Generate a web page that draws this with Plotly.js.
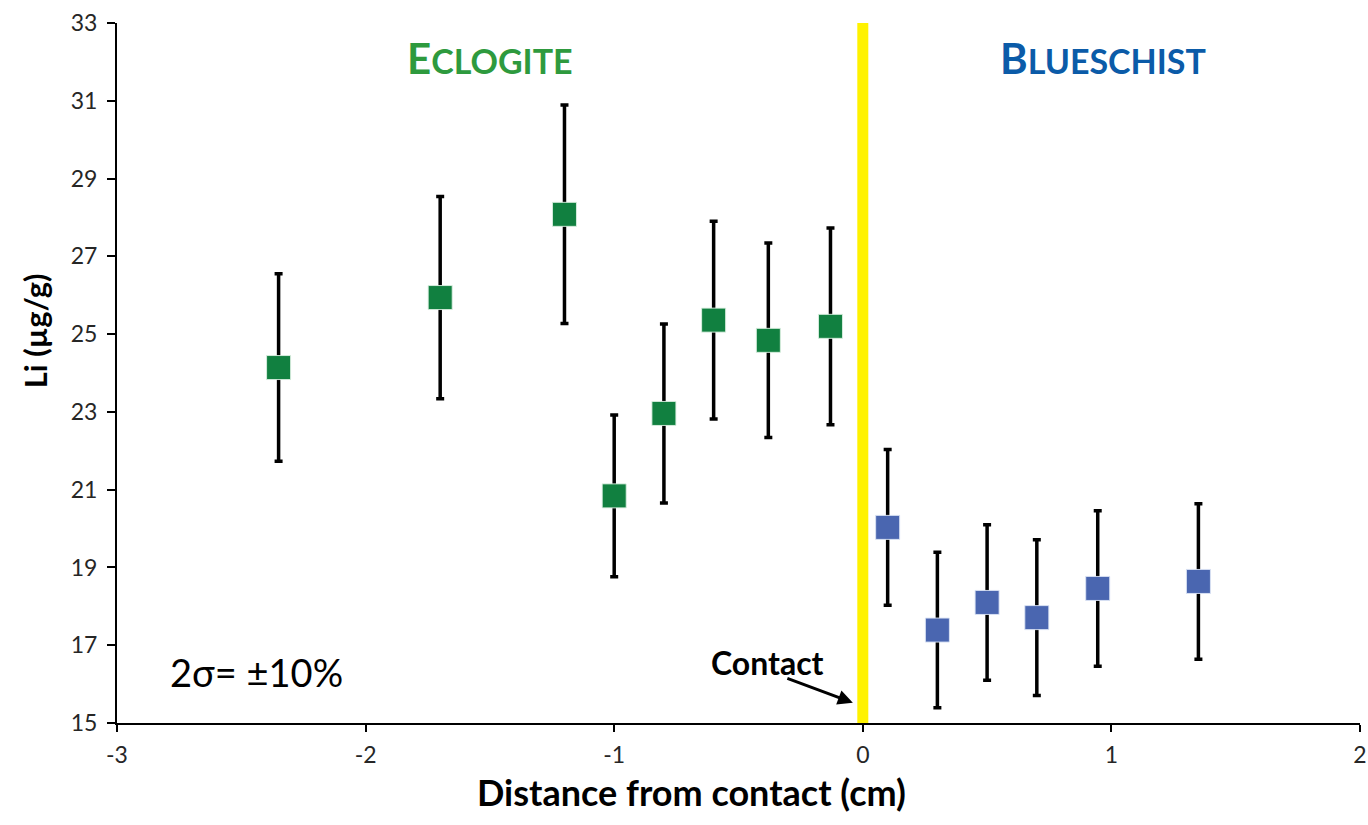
<!DOCTYPE html>
<html>
<head>
<meta charset="utf-8">
<script src="https://cdn.plot.ly/plotly-3.0.1.min.js"></script>
<style>
  html, body { margin: 0; padding: 0; background: #fff; }
  #chart { width: 1368px; height: 825px; }
</style>
</head>
<body>
<div id="chart"></div>
<script>
// Li concentration profile across the eclogite / blueschist contact
const eclogiteDistance = [-2.35, -1.70, -1.20, -1.00, -0.80, -0.60, -0.38, -0.13];
const eclogiteLi       = [24.14, 25.94, 28.08, 20.84, 22.96, 25.36, 24.84, 25.20];
const eclogiteErr      = [2.41, 2.60, 2.81, 2.08, 2.30, 2.54, 2.50, 2.53];

const blueschistDistance = [0.10, 0.30, 0.50, 0.70, 0.945, 1.35];
const blueschistLi       = [20.03, 17.39, 18.10, 17.71, 18.46, 18.64];
const blueschistErr      = [2.00, 2.00, 2.00, 2.00, 2.00, 2.00];

const xTicks = [-3, -2, -1, 0, 1, 2];
const yTicks = [15, 17, 19, 21, 23, 25, 27, 29, 31, 33];

const FONT = 'Lato, sans-serif';

function errorBars(values) {
  return {
    type: 'data',
    array: values,
    symmetric: true,
    visible: true,
    color: '#000000',
    thickness: 3.5,
    width: 4
  };
}

const traces = [
  {
    // contact line at x = 0
    x: [0, 0],
    y: [15, 33],
    mode: 'lines',
    line: { color: '#FFF200', width: 11 },
    hoverinfo: 'skip',
    showlegend: false
  },
  {
    x: eclogiteDistance,
    y: eclogiteLi,
    name: 'Eclogite',
    mode: 'markers',
    marker: { symbol: 'square', size: 24, color: '#118040',
              line: { color: 'rgba(220,240,225,0.9)', width: 1 } },
    error_y: errorBars(eclogiteErr),
    showlegend: false
  },
  {
    x: blueschistDistance,
    y: blueschistLi,
    name: 'Blueschist',
    mode: 'markers',
    marker: { symbol: 'square', size: 24, color: '#4A66B0',
              line: { color: 'rgba(220,228,245,0.9)', width: 1 } },
    error_y: errorBars(blueschistErr),
    showlegend: false
  }
];

const layout = {
  width: 1368,
  height: 825,
  paper_bgcolor: '#ffffff',
  plot_bgcolor: '#ffffff',
  margin: { l: 117, r: 8, t: 23, b: 102 },
  showlegend: false,
  font: { family: FONT, color: '#262626' },
  xaxis: {
    range: [-3, 2],
    tickvals: xTicks,
    ticktext: xTicks.map(String),
    showgrid: false,
    zeroline: false,
    showline: true,
    linecolor: '#000000',
    linewidth: 2,
    ticks: 'outside',
    ticklen: 7,
    tickwidth: 2,
    tickcolor: '#000000',
    ticklabelstandoff: 3,
    tickfont: { family: FONT, size: 23, color: '#262626' },
    automargin: false
  },
  yaxis: {
    range: [15, 33],
    tickvals: yTicks,
    ticktext: yTicks.map(String),
    showgrid: false,
    zeroline: false,
    showline: true,
    linecolor: '#000000',
    linewidth: 2,
    ticks: 'outside',
    ticklen: 8,
    tickwidth: 2,
    tickcolor: '#000000',
    ticklabelstandoff: 5,
    tickfont: { family: FONT, size: 23, color: '#262626' },
    automargin: false
  },
  annotations: [
    {
      // x-axis title
      xref: 'paper', yref: 'paper', x: 0.4618, y: -0.099,
      xanchor: 'center', yanchor: 'middle',
      text: '<b>Distance from contact (cm)</b>',
      showarrow: false,
      font: { family: FONT, size: 36, color: '#000000' }
    },
    {
      // y-axis title, set slightly above the axis midpoint
      xref: 'paper', yref: 'paper', x: -0.066, y: 0.561,
      xanchor: 'center', yanchor: 'middle',
      textangle: -90,
      text: '<b>Li (µg/g)</b>',
      showarrow: false,
      font: { family: FONT, size: 31, color: '#000000' }
    },
    {
      xref: 'x', yref: 'y', x: -1.50, y: 32.1,
      text: '<b>E<span style="font-size:34px">CLOGITE</span></b>',
      showarrow: false,
      font: { family: FONT, size: 42, color: '#2E9A3E' }
    },
    {
      xref: 'x', yref: 'y', x: 0.966, y: 32.1,
      text: '<b>B<span style="font-size:34px">LUESCHIST</span></b>',
      showarrow: false,
      font: { family: FONT, size: 42, color: '#0B5BA8' }
    },
    {
      xref: 'x', yref: 'y', x: -2.44, y: 16.30,
      text: '2σ= ±10%',
      showarrow: false,
      font: { family: FONT, size: 38, color: '#000000' }
    },
    {
      xref: 'x', yref: 'y', x: -0.385, y: 16.56,
      text: '<b>Contact</b>',
      showarrow: false,
      font: { family: FONT, size: 32, color: '#000000' }
    },
    {
      xref: 'x', yref: 'y', x: -0.04, y: 15.52,
      axref: 'pixel', ayref: 'pixel', ax: -67, ay: -25,
      text: '',
      showarrow: true,
      arrowhead: 2,
      arrowsize: 1,
      arrowwidth: 3,
      arrowcolor: '#000000',
      standoff: 0
    }
  ]
};

Plotly.newPlot('chart', traces, layout, { displayModeBar: false, staticPlot: true });
</script>
</body>
</html>
